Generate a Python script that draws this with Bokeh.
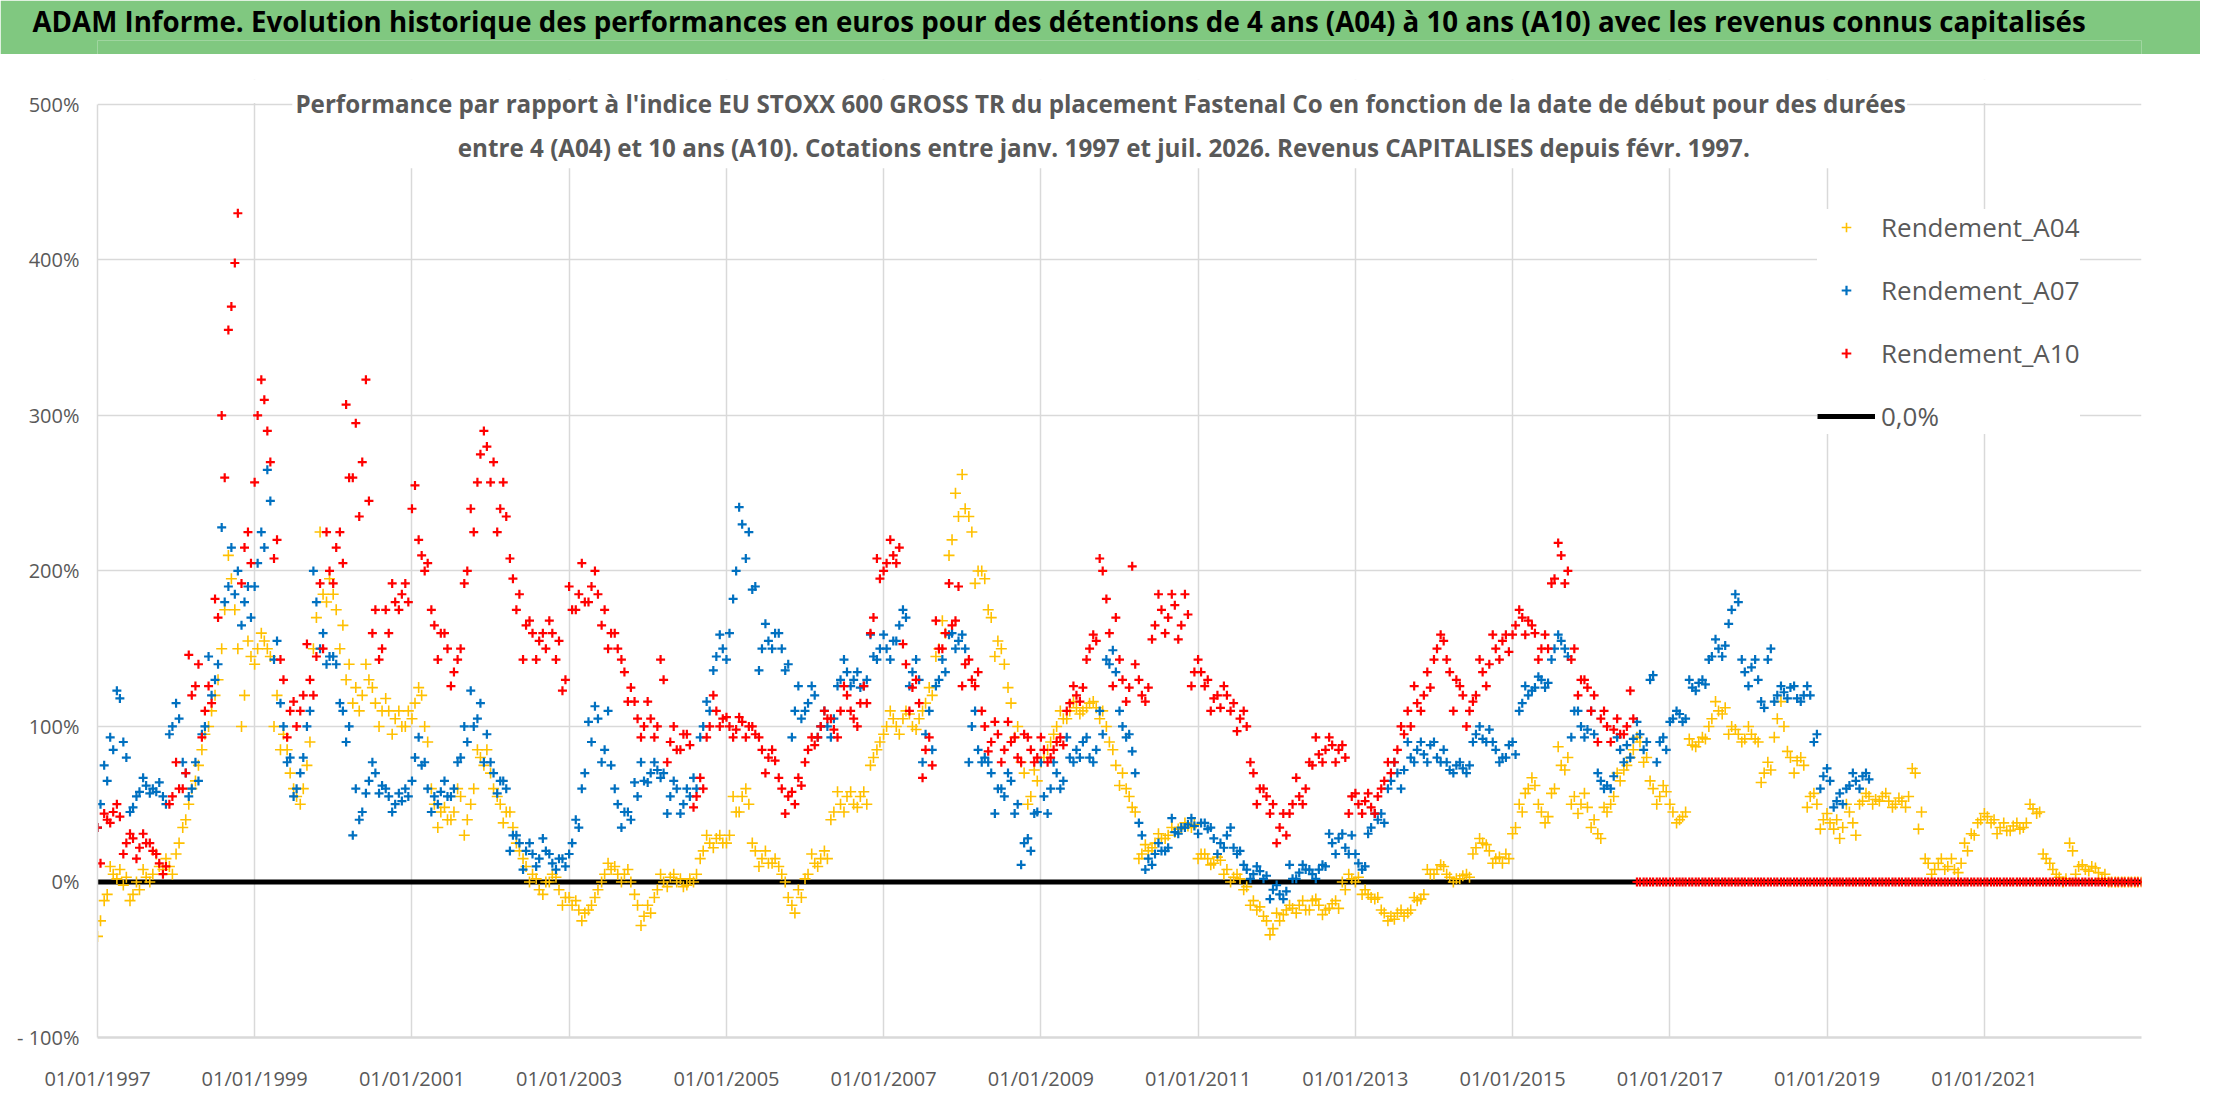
import pandas as pd
from bokeh.plotting import figure
from bokeh.models import (Range1d, FixedTicker, Legend, LegendItem, BoxAnnotation, Label,
                          ColumnDataSource)
from bokeh.layouts import column
from bokeh.embed import file_html
from bokeh.resources import INLINE

# ---------------- texts ----------------
TITLE = ("ADAM Informe. Evolution historique des performances en euros pour des détentions "
         "de 4 ans (A04) à 10 ans (A10) avec les revenus connus capitalisés")
SUBTITLE_1 = ("Performance par rapport à l'indice EU STOXX 600 GROSS TR  du placement Fastenal Co "
              "en fonction de la date de début pour des durées")
SUBTITLE_2 = ("entre 4 (A04) et 10 ans (A10). Cotations entre janv. 1997 et juil. 2026. "
              "Revenus CAPITALISES depuis févr. 1997.")

series_names = ["Rendement_A04", "Rendement_A07", "Rendement_A10"]
zero_line_name = "0,0%"

# ---------------- axis ticks ----------------
x_tick_dates = ["1997-01-01", "1999-01-01", "2001-01-01", "2003-01-01", "2005-01-01",
                "2007-01-01", "2009-01-01", "2011-01-01", "2013-01-01", "2015-01-01",
                "2017-01-01", "2019-01-01", "2021-01-01"]
x_tick_labels = ["01/01/1997", "01/01/1999", "01/01/2001", "01/01/2003", "01/01/2005",
                 "01/01/2007", "01/01/2009", "01/01/2011", "01/01/2013", "01/01/2015",
                 "01/01/2017", "01/01/2019", "01/01/2021"]
y_ticks = [-100, 0, 100, 200, 300, 400, 500]
y_tick_labels = ["- 100%", "0%", "100%", "200%", "300%", "400%", "500%"]

# ---------------- data (%, two readings per month starting Jan 1997) ----------------
# readings at mid-month
A04 = [
    -25, -8, 5, 8, 3, -8, -5, 3, 5, 10, 15, 5,            # 1997
    25, 40, 60, 75, 95, 110, 130, 175, 195, 150, 120, 145,  # 1998
    150, 155, 145, 120, 95, 70, 55, 60, 90, 170, 185, 195,  # 1999
    175, 165, 140, 125, 120, 130, 115, 110, 110, 105, 100, 110,  # 2000
    115, 120, 90, 50, 45, 40, 45, 55, 40, 60, 80, 85,       # 2001
    60, 50, 45, 35, 20, 10, 5, -5, 0, 5, -5, -10,           # 2002
    -15, -18, -20, -15, -5, 5, 8, 5, 5, 0, -15, -22,        # 2003
    -20, -5, 0, 3, 0, -3, 2, 5, 20, 25, 28, 25,             # 2004
    30, 45, 55, 50, 20, 15, 12, 15, 5, -10, -20, -10,       # 2005
    5, 12, 15, 15, 45, 50, 55, 50, 55, 50, 80, 90,          # 2006
    100, 105, 95, 110, 100, 105, 115, 120, 150, 160, 220, 235,  # 2007
    240, 225, 200, 195, 170, 155, 140, 115, 100, 70, 55, 65,    # 2008
    80, 90, 100, 105, 110, 112, 110, 115, 112, 110, 90, 75,     # 2009
    70, 55, 45, 18, 20, 25, 28, 30, 32, 35, 36, 37,         # 2010
    18, 15, 12, 14, 8, 3, 2, -3, -12, -16, -25, -30,        # 2011
    -25, -18, -17, -15, -18, -12, -15, -18, -14, -17, -5, 2,  # 2012
    3, -5, -10, -10, -20, -22, -20, -22, -18, -12, -8, 5,   # 2013
    8, 10, 3, 2, 4, 3, 22, 25, 20, 15, 12, 15,              # 2014
    35, 45, 60, 62, 45, 42, 60, 75, 80, 55, 50, 48,         # 2015
    40, 28, 45, 55, 65, 75, 85, 90, 80, 60, 55, 58,         # 2016
    45, 40, 45, 88, 90, 92, 105, 110, 112, 100, 95, 92,     # 2017
    95, 90, 70, 72, 105, 100, 80, 78, 75, 55, 50, 40,       # 2018
    38, 40, 35, 45, 30, 52, 55, 53, 55, 52, 50, 52,         # 2019
    55, 70, 45, 12, 8, 15, 10, 8, 12, 20, 30, 40,           # 2020
    42, 40, 35, 33, 36, 34, 38, 47, 45, 15, 8, 3,           # 2021
    2, 20, 10, 8, 10, 6, 5, 0, 0, 0, 0, 0,                  # 2022
    0,                                                      # 2023
]
# readings at start of month
A04_b = [
    -35, -12, 10, 2, -2, -12, 0, 8, 0, 18, 8, 10,           # 1997
    18, 35, 50, 65, 85, 100, 120, 150, 210, 175, 100, 155,  # 1998
    140, 160, 150, 100, 85, 85, 60, 50, 75, 150, 225, 180,  # 1999
    185, 150, 130, 115, 110, 140, 125, 100, 118, 95, 110, 100,  # 2000
    105, 125, 100, 60, 35, 48, 40, 60, 30, 50, 85, 75,      # 2001
    70, 55, 38, 45, 25, 15, 0, 2, -8, 0, 3, -15,            # 2002
    -10, -12, -25, -18, -10, 0, 12, 10, 0, 8, -8, -28,      # 2003
    -15, -10, 5, -3, 5, 2, -2, 0, 15, 30, 22, 30,           # 2004
    25, 55, 45, 60, 25, 10, 20, 12, 10, 0, -15, -5,         # 2005
    2, 18, 10, 20, 40, 58, 45, 58, 48, 58, 75, 85,          # 2006
    95, 110, 100, 105, 108, 98, 110, 125, 145, 168, 210, 250,   # 2007
    262, 235, 192, 200, 175, 145, 150, 125, 93, 77, 50, 72,     # 2008
    77, 85, 95, 110, 105, 116, 108, 112, 116, 105, 100, 85,     # 2009
    62, 60, 48, 15, 24, 22, 31, 28, 35, 34, 38, 35,         # 2010
    15, 18, 11, 16, 5, 0, 5, -5, -15, -18, -22, -34,        # 2011
    -20, -21, -15, -20, -12, -18, -11, -21, -17, -12, 0, 5, # 2012
    0, -8, -8, -11, -18, -25, -24, -18, -20, -10, -11, 8,   # 2013
    5, 11, 5, 0, 2, 5, 18, 28, 24, 12, 16, 18,              # 2014
    31, 50, 57, 67, 50, 38, 57, 87, 72, 50, 44, 57,         # 2015
    35, 31, 48, 50, 70, 72, 80, 93, 77, 65, 50, 62,         # 2016
    50, 38, 42, 92, 87, 93, 100, 116, 108, 95, 98, 90,      # 2017
    100, 92, 64, 77, 93, 116, 84, 70, 80, 48, 57, 34,       # 2018
    44, 34, 28, 50, 38, 50, 57, 50, 52, 57, 48, 54,         # 2019
    48, 73, 34, 15, 5, 12, 8, 15, 6, 25, 31, 38,            # 2020
    44, 38, 31, 38, 33, 38, 35, 50, 44, 18, 12, 5,          # 2021
    0, 25, 5, 11, 7, 9, 2, 0, 0, 0, 0, 0,                   # 2022
    0,                                                      # 2023
]

A07 = [
    50, 65, 85, 118, 80, 48, 58, 62, 60, 64, 50, 100,       # 1997
    105, 70, 60, 65, 100, 120, 140, 180, 215, 200, 180, 170,  # 1998
    205, 215, 245, 155, 100, 80, 60, 80, 110, 180, 160, 145,  # 1999
    140, 110, 100, 60, 45, 65, 70, 62, 55, 50, 52, 55,      # 2000
    80, 75, 60, 55, 58, 55, 60, 80, 90, 100, 115, 95,       # 2001
    70, 65, 60, 30, 25, 20, 18, 15, 20, 12, 15, 10,         # 2002
    25, 35, 70, 90, 105, 85, 75, 50, 45, 40, 55, 65,        # 2003
    70, 72, 70, 55, 60, 50, 55, 60, 100, 110, 145, 150,     # 2004
    160, 200, 230, 225, 190, 150, 155, 160, 150, 140, 110, 105,  # 2005
    115, 120, 100, 100, 105, 130, 135, 130, 125, 130, 145, 150,  # 2006
    150, 155, 165, 170, 135, 130, 95, 85, 130, 135, 160, 155,    # 2007
    150, 100, 85, 80, 70, 60, 55, 65, 50, 25, 20, 45,       # 2008
    55, 60, 70, 65, 80, 85, 90, 80, 85, 95, 140, 135,       # 2009
    100, 95, 70, 30, 15, 18, 20, 22, 32, 35, 37, 36,        # 2010
    38, 34, 28, 25, 30, 22, 20, 8, 5, 7, 4, -5,             # 2011
    -8, -6, 2, 6, 8, 5, 8, 10, 25, 28, 22, 30,              # 2012
    12, 10, 35, 40, 38, 65, 70, 72, 80, 85, 82, 88,         # 2013
    80, 85, 72, 75, 73, 75, 95, 92, 98, 85, 80, 88,         # 2014
    82, 115, 120, 125, 130, 128, 150, 155, 145, 110, 100, 98,    # 2015
    95, 65, 62, 68, 85, 88, 92, 95, 90, 133, 90, 85,        # 2016
    105, 108, 105, 125, 128, 127, 145, 150, 152, 175, 180, 135,  # 2017
    138, 130, 112, 150, 120, 122, 125, 118, 120, 120, 95, 68,    # 2018
    65, 52, 50, 62, 65, 68, 66,                             # 2019
]
A07_b = [
    35, 75, 93, 123, 90, 45, 55, 67, 57, 58, 55, 95,        # 1997
    115, 77, 55, 77, 95, 145, 130, 228, 190, 185, 165, 190, # 1998
    190, 225, 265, 143, 115, 77, 55, 70, 100, 200, 150, 140,  # 1999
    145, 115, 90, 30, 40, 57, 77, 57, 60, 45, 57, 60,       # 2000
    65, 93, 77, 45, 50, 65, 55, 77, 100, 123, 105, 77,      # 2001
    77, 57, 65, 20, 30, 8, 25, 10, 28, 18, 8, 15,           # 2002
    18, 40, 60, 103, 113, 77, 110, 60, 35, 45, 64, 77,      # 2003
    64, 77, 67, 44, 65, 44, 60, 67, 93, 116, 136, 159,      # 2004
    143, 182, 241, 208, 188, 136, 166, 150, 160, 136, 93, 126,   # 2005
    110, 126, 93, 110, 93, 126, 143, 126, 135, 126, 159, 143,    # 2006
    159, 143, 155, 175, 126, 143, 77, 110, 126, 143, 159, 150,   # 2007
    159, 77, 110, 77, 77, 44, 60, 70, 44, 11, 28, 44,       # 2008
    77, 44, 77, 60, 93, 77, 80, 93, 77, 110, 143, 149,      # 2009
    110, 93, 84, 38, 8, 11, 25, 20, 41, 31, 35, 41,         # 2010
    31, 38, 35, 18, 22, 35, 18, 11, 2, 10, 2, -11,          # 2011
    -2, -11, 11, 2, 11, 8, 2, 11, 31, 18, 31, 18,           # 2012
    18, 8, 31, 44, 44, 60, 77, 60, 90, 77, 90, 77,          # 2013
    90, 77, 77, 70, 77, 70, 90, 100, 90, 90, 77, 80,        # 2014
    90, 110, 126, 123, 132, 125, 143, 159, 150, 93, 110, 93,     # 2015
    110, 70, 60, 60, 93, 77, 80, 103, 85, 130, 77, 93,      # 2016
    103, 110, 103, 130, 123, 130, 143, 156, 145, 166, 185, 143,  # 2017
    126, 143, 116, 143, 116, 126, 118, 126, 116, 126, 90, 60,    # 2018
    73, 48, 57, 60, 70, 60, 70,                             # 2019
]

A10 = [
    12, 40, 45, 42, 25, 28, 22, 25, 20, 12, 10, 55,         # 1997
    60, 70, 120, 140, 110, 115, 170, 260, 370, 430, 215, 205,    # 1998
    300, 310, 270, 220, 130, 110, 100, 120, 130, 145, 150, 200,  # 1999
    215, 205, 260, 295, 270, 245, 175, 150, 160, 180, 185, 180,  # 2000
    255, 210, 205, 165, 160, 150, 135, 150, 200, 225, 275, 280,  # 2001
    270, 240, 235, 195, 185, 165, 160, 155, 150, 160, 155, 130,  # 2002
    175, 185, 180, 190, 185, 175, 160, 150, 135, 125, 105, 100,  # 2003
    105, 100, 130, 90, 85, 95, 88, 55, 60, 100, 110, 105,   # 2004
    100, 98, 103, 100, 95, 85, 80, 78, 60, 55, 50, 62,      # 2005
    85, 88, 100, 105, 98, 110, 120, 105, 115, 115, 170, 195,     # 2006
    205, 210, 215, 140, 125, 115, 85, 75, 150, 160, 165, 190,    # 2007
    140, 130, 135, 100, 90, 95, 85, 90, 80, 95, 85, 80,     # 2008
    85, 80, 90, 88, 115, 120, 125, 150, 155, 200, 160, 170, # 2009
    130, 125, 140, 120, 125, 165, 175, 170, 178, 165, 172, 135,  # 2010
    135, 130, 118, 112, 120, 115, 105, 100, 70, 60, 55, 50,      # 2011
    35, 30, 50, 55, 60, 75, 82, 85, 88, 85, 80, 55,         # 2012
    50, 52, 48, 55, 65, 70, 85, 95, 100, 115, 120, 125,     # 2013
    150, 155, 135, 130, 120, 110, 120, 135, 140, 150, 155, 148,  # 2014
    165, 170, 168, 160, 150, 150, 195, 210, 200, 150, 130, 125,  # 2015
    120, 105, 100, 98, 95, 100, 105, 0, 0, 0, 0, 0,         # 2016
    0, 0, 0, 0, 0, 0, 0, 0, 0, 0, 0, 0,                     # 2017
    0, 0, 0, 0, 0, 0, 0, 0, 0, 0, 0, 0,                     # 2018
    0, 0, 0, 0, 0, 0, 0, 0, 0, 0, 0, 0,                     # 2019
    0, 0, 0, 0, 0, 0, 0, 0, 0, 0, 0, 0,                     # 2020
    0, 0, 0, 0, 0, 0, 0, 0, 0, 0, 0, 0,                     # 2021
    0, 0, 0, 0, 0, 0, 0, 0, 0, 0, 0, 0,                     # 2022
    0,                                                      # 2023
]
A10_b = [
    35, 44, 38, 50, 18, 31, 15, 31, 25, 18, 5, 50,          # 1997
    77, 60, 146, 126, 93, 126, 182, 300, 355, 398, 192, 225,     # 1998
    257, 323, 290, 208, 143, 93, 116, 110, 153, 120, 192, 225,   # 1999
    192, 225, 307, 260, 235, 323, 160, 143, 175, 192, 175, 192,  # 2000
    240, 220, 200, 175, 143, 160, 126, 143, 192, 240, 257, 290,  # 2001
    257, 225, 257, 208, 175, 143, 168, 143, 160, 168, 143, 123,  # 2002
    190, 175, 205, 180, 200, 165, 150, 160, 143, 116, 116, 93,   # 2003
    116, 93, 143, 77, 100, 85, 95, 48, 67, 93, 120, 100,    # 2004
    106, 93, 106, 93, 100, 93, 70, 85, 67, 44, 58, 67,      # 2005
    77, 93, 93, 110, 105, 93, 126, 110, 100, 126, 160, 208, # 2006
    200, 220, 205, 153, 110, 130, 67, 93, 168, 150, 192, 168,    # 2007
    126, 143, 126, 110, 84, 103, 77, 103, 93, 77, 93, 77,   # 2008
    93, 77, 85, 93, 110, 126, 116, 143, 159, 208, 182, 126, # 2009
    143, 116, 203, 130, 116, 156, 185, 160, 185, 156, 185, 126,  # 2010
    143, 126, 110, 120, 126, 110, 97, 110, 77, 50, 60, 44,  # 2011
    25, 44, 44, 67, 50, 77, 93, 77, 93, 77, 88, 44,         # 2012
    57, 44, 57, 44, 60, 77, 77, 100, 110, 126, 110, 135,    # 2013
    143, 159, 143, 110, 126, 100, 116, 143, 126, 159, 143, 159,  # 2014
    159, 175, 159, 165, 143, 159, 192, 218, 192, 143, 120, 130,  # 2015
    110, 90, 110, 90, 105, 95, 123, 0, 0, 0, 0, 0,          # 2016
    0, 0, 0, 0, 0, 0, 0, 0, 0, 0, 0, 0,                     # 2017
    0, 0, 0, 0, 0, 0, 0, 0, 0, 0, 0, 0,                     # 2018
    0, 0, 0, 0, 0, 0, 0, 0, 0, 0, 0, 0,                     # 2019
    0, 0, 0, 0, 0, 0, 0, 0, 0, 0, 0, 0,                     # 2020
    0, 0, 0, 0, 0, 0, 0, 0, 0, 0, 0, 0,                     # 2021
    0, 0, 0, 0, 0, 0, 0, 0, 0, 0, 0, 0,                     # 2022
    0,                                                      # 2023
]

zero_line_dates = ["1997-01-01", "2023-01-01"]
zero_line_values = [0, 0]

series_colors = ["#FFC000", "#0070C0", "#FF0000"]


def month_dates(n, day):
    return pd.date_range("1997-01-01", periods=n, freq="MS") + pd.Timedelta(days=day)


def ms(d):
    return pd.Timestamp(d).value / 1e6


FONT = "Open Sans"
GREY = "#595959"
GRID = "#d9d9d9"
GREEN = "#80C880"
Y_TOP = 516  # room above 500% for the subtitle
W, H_HEAD, H_MAIN = 2200, 54, 1040

# ---------------- header (green title band) ----------------
header = figure(width=W, height=H_HEAD, title=TITLE, x_range=Range1d(0, 1), y_range=Range1d(0, 1),
                output_backend="svg", toolbar_location=None, min_border=0,
                x_axis_location=None, y_axis_location=None)
header.min_border_top = 4
header.grid.visible = False
header.background_fill_color = GREEN
header.border_fill_color = GREEN
header.outline_line_color = None
header.title.align = "left"
header.title.offset = -65
header.title.standoff = 0
header.title.vertical_align = "middle"
header.title.text_font = FONT
header.title.text_font_style = "bold"
header.title.text_font_size = "27.7px"
header.title.text_color = "#000000"

# ---------------- main chart ----------------
p = figure(width=W, height=H_MAIN, x_axis_type="datetime",
           x_range=Range1d(ms("1997-01-01"), ms("2023-01-01")),
           y_range=Range1d(-100, Y_TOP),
           output_backend="svg", toolbar_location=None,
           min_border_left=97, min_border_right=59, min_border_top=25, min_border_bottom=56)
p.outline_line_color = None
p.background_fill_color = "white"
p.border_fill_color = "white"

xt = [ms(d) for d in x_tick_dates]
p.xaxis.ticker = FixedTicker(ticks=xt)
p.xaxis.major_label_overrides = {t: lab for t, lab in zip(xt, x_tick_labels)}
p.yaxis.ticker = FixedTicker(ticks=y_ticks)
p.yaxis.major_label_overrides = {t: lab for t, lab in zip(y_ticks, y_tick_labels)}
p.yaxis.bounds = (-100, 500)
p.xgrid.ticker = FixedTicker(ticks=xt)
p.ygrid.ticker = FixedTicker(ticks=y_ticks)

for g in (p.xgrid, p.ygrid):
    g.grid_line_color = GRID
    g.grid_line_width = 1.5

for ax in (p.xaxis, p.yaxis):
    ax.axis_line_color = GRID
    ax.major_tick_line_color = None
    ax.minor_tick_line_color = None
    ax.major_tick_out = 0
    ax.major_tick_in = 0
    ax.minor_tick_out = 0
    ax.minor_tick_in = 0
    ax.major_label_text_font = FONT
    ax.major_label_text_font_size = "20px"
    ax.major_label_text_color = GREY
p.xaxis.axis_line_width = 2.5
p.yaxis.axis_line_width = 1.5
p.xaxis.major_label_standoff = 27
p.yaxis.major_label_standoff = 18

# mask the gridlines above 500% and behind the subtitle
p.add_layout(BoxAnnotation(bottom=500.9, fill_color="white", fill_alpha=1.0,
                           line_color=None, level="underlay"))
p.add_layout(BoxAnnotation(left=ms("1999-06-25"), right=ms("2020-01-08"), bottom=459,
                           fill_color="white", fill_alpha=1.0, line_color=None,
                           level="underlay"))

# zero reference line
zl = p.line(x=pd.to_datetime(zero_line_dates), y=zero_line_values, line_color="black",
            line_width=5)

renderers = []
for va, vb, col, lw, sz in zip([A04, A07, A10], [A04_b, A07_b, A10_b], series_colors,
                               [1.6, 2.2, 2.2], [11, 9, 9]):
    src = ColumnDataSource(dict(x=list(month_dates(len(vb), 0)) + list(month_dates(len(va), 14)),
                                y=list(vb) + list(va)))
    r = p.scatter(x="x", y="y", source=src, marker="cross", size=sz, line_width=lw,
                  line_color=col, fill_color=col)
    renderers.append(r)

for txt, yv in ((SUBTITLE_1, 500.4), (SUBTITLE_2, 472)):
    p.add_layout(Label(x=ms("2009-10-20"), y=yv, text=txt, text_align="center",
                       text_baseline="middle", text_font=FONT, text_font_style="bold",
                       text_font_size="24.2px", text_color=GREY))

legend = Legend(items=[LegendItem(label=series_names[0], renderers=[renderers[0]]),
                       LegendItem(label=series_names[1], renderers=[renderers[1]]),
                       LegendItem(label=series_names[2], renderers=[renderers[2]]),
                       LegendItem(label=zero_line_name, renderers=[zl])],
                location=(1720, 603), orientation="vertical",
                background_fill_color="white", background_fill_alpha=1.0,
                border_line_color=None, padding=20, spacing=27,
                glyph_width=58, glyph_height=24, label_height=26, label_standoff=6,
                label_text_font=FONT, label_text_font_size="26px", label_text_color=GREY)
p.add_layout(legend)

layout = column(header, p, spacing=0)
open("out.html", "w").write(file_html(layout, INLINE, "ADAM Informe"))
